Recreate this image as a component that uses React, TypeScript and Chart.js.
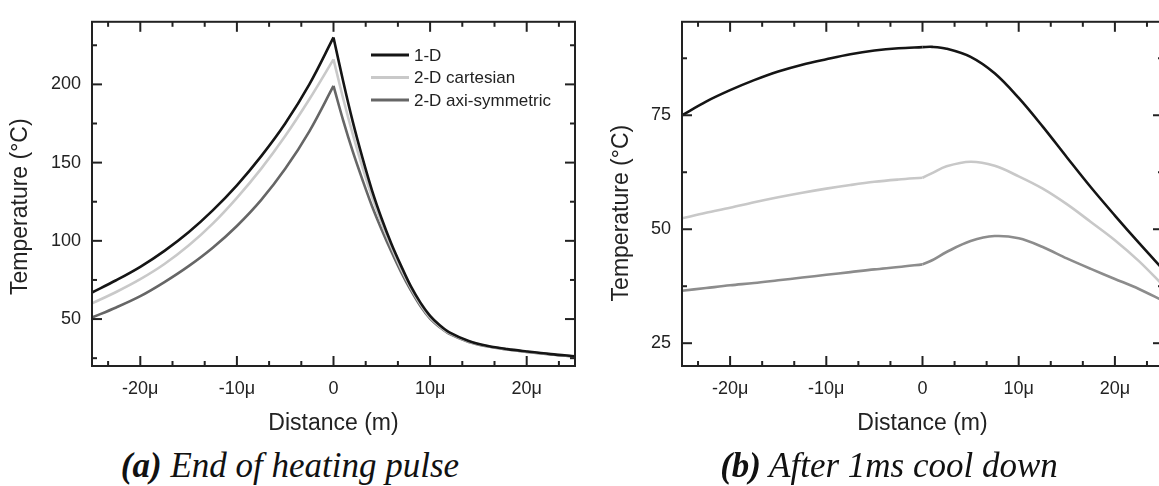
import React, { useEffect, useRef } from 'react';
import { Chart, registerables } from 'chart.js';

Chart.register(...registerables);

// ---------- data ----------
const SERIES_NAMES = ['1-D', '2-D cartesian', '2-D axi-symmetric'];
const X_TICKS = [-20, -10, 0, 10, 20];
const Y_TICKS_A = [50, 100, 150, 200];
const Y_TICKS_B = [25, 50, 75];

// (a) End of heating pulse — distance in µm
const X_A = [-25, -22.5, -20, -17.5, -15, -12.5, -10, -7.5, -5, -2.5, 0, 1, 2, 3, 4, 5, 6, 7, 8, 9, 10, 11, 12, 14, 16, 18, 20, 22.5, 25];
const ONE_D_A = [67, 74.8, 83.4, 93.6, 105.5, 119.5, 135.5, 154, 175, 200, 230, 202, 176, 153, 132, 114, 98, 84, 71, 60.5, 52, 46, 41.5, 36, 32.8, 30.8, 29.3, 27.6, 26.2];
const CART_A = [60, 67.3, 75.5, 85.2, 97, 111, 127.5, 146, 167, 190.5, 216, 191, 168, 147, 128, 111, 96, 82, 70, 59.5, 51, 45.3, 41, 35.7, 32.6, 30.6, 29.1, 27.5, 26.1];
const AXI_A = [51, 57.4, 64.6, 73.6, 83.8, 95.6, 109.5, 126, 146, 170, 199, 177, 157, 139, 122, 107, 93, 80, 68.5, 58.3, 50.3, 44.8, 40.5, 35.4, 32.4, 30.5, 29, 27.4, 26];

// (b) After 1ms cool down
const X_B = [-25, -22.5, -20, -17.5, -15, -12.5, -10, -7.5, -5, -2.5, 0, 1, 2.5, 5, 7.5, 10, 12.5, 15, 17.5, 20, 22.5, 25];
const ONE_D_B = [75, 78, 80.5, 82.7, 84.6, 86.1, 87.3, 88.4, 89.2, 89.7, 89.95, 90, 89.6, 87.8, 84.2, 78.8, 72.5, 65.8, 59.2, 53, 47, 41.2];
const CART_B = [52.4, 53.6, 54.7, 55.9, 57, 58, 58.9, 59.7, 60.4, 60.9, 61.3, 62.3, 63.8, 64.8, 63.9, 61.6, 58.9, 55.5, 51.6, 47.6, 43, 37.7];
const AXI_B = [36.5, 37.1, 37.7, 38.2, 38.8, 39.4, 40, 40.6, 41.2, 41.7, 42.3, 43.2, 45, 47.4, 48.5, 48, 46.1, 43.6, 41.3, 39.1, 36.9, 34.3];

// ---------- styling ----------
const SANS = '"Liberation Sans", Arial, sans-serif';
const INK = '#222222';
const COLORS_A = ['#151515', '#c9c9c9', '#666666'];
const COLORS_B = ['#151515', '#c8c8c8', '#8c8c8c'];

function halves(xs: number[], ys: number[], label: string, color: string) {
  const left: { x: number; y: number }[] = [];
  const right: { x: number; y: number }[] = [];
  xs.forEach((x, i) => {
    if (x <= 0) left.push({ x, y: ys[i] });
    if (x >= 0) right.push({ x, y: ys[i] });
  });
  const common = {
    borderColor: color,
    backgroundColor: color,
    borderWidth: 2.6,
    pointRadius: 0,
    fill: false,
    tension: 0.35,
  };
  return [
    { ...common, label, data: left },
    { ...common, label: label + ' ', data: right },
  ];
}

const framePlugin = {
  id: 'frameTicks',
  afterDraw(chart: any, _args: any, opts: any) {
    const { ctx, chartArea, scales } = chart;
    const { left, right, top, bottom } = chartArea;
    const xs = scales.x;
    const ys = scales.y;
    ctx.save();
    ctx.strokeStyle = INK;
    ctx.lineWidth = 2;
    ctx.lineCap = 'butt';
    const line = (x1: number, y1: number, x2: number, y2: number) => {
      ctx.beginPath();
      ctx.moveTo(x1, y1);
      ctx.lineTo(x2, y2);
      ctx.stroke();
    };
    const major = 10;
    const minor = 5;
    const xMaj: number[] = opts.xMajor;
    const xStep = xMaj[1] - xMaj[0];
    const xMin: number[] = [];
    for (let m = xMaj[0] - xStep; m <= xMaj[xMaj.length - 1] + 1e-9; m += xStep) {
      for (const k of [1, 2]) {
        const v = m + (k * xStep) / 3;
        if (v > xs.min && v < xs.max) xMin.push(v);
      }
    }
    xMaj.forEach((v) => {
      const p = xs.getPixelForValue(v);
      line(p, bottom, p, bottom - major);
      line(p, top, p, top + major);
    });
    xMin.forEach((v) => {
      const p = xs.getPixelForValue(v);
      line(p, bottom, p, bottom - minor);
      line(p, top, p, top + minor);
    });
    const yMaj: number[] = opts.yMajor;
    const yStep = yMaj[1] - yMaj[0];
    const yMin: number[] = [];
    for (let m = yMaj[0] - yStep; m <= yMaj[yMaj.length - 1] + 1e-9; m += yStep) {
      const v = m + yStep / 2;
      if (v > ys.min && v < ys.max) yMin.push(v);
    }
    yMaj.forEach((v) => {
      const p = ys.getPixelForValue(v);
      line(left, p, left + major, p);
      line(right, p, right - major, p);
    });
    yMin.forEach((v) => {
      const p = ys.getPixelForValue(v);
      line(left, p, left + minor, p);
      line(right, p, right - minor, p);
    });
    ctx.strokeRect(left, top, right - left, bottom - top);
    ctx.restore();
  },
};

const seriesLegendPlugin = {
  id: 'seriesLegend',
  afterDraw(chart: any, _args: any, opts: any) {
    if (!opts || !opts.show) return;
    const { ctx } = chart;
    ctx.save();
    ctx.font = `17px ${SANS}`;
    ctx.textBaseline = 'middle';
    ctx.textAlign = 'left';
    SERIES_NAMES.forEach((name, i) => {
      const ds = chart.data.datasets[i * 2];
      const y = opts.y0 + i * opts.dy;
      ctx.strokeStyle = ds.borderColor;
      ctx.lineWidth = 3;
      ctx.beginPath();
      ctx.moveTo(opts.x0, y);
      ctx.lineTo(opts.x1, y);
      ctx.stroke();
      ctx.fillStyle = INK;
      ctx.fillText(name, opts.tx, y + 1);
    });
    ctx.restore();
  },
};

function makeConfig(p: {
  xs: number[];
  series: number[][];
  colors: string[];
  yMin: number;
  yMax: number;
  yTicks: number[];
  padTop: number;
  padRight: number;
  yTitlePad: number;
  yTitleText: string;
  legend: boolean;
}) {
  const datasets: any[] = [];
  p.series.forEach((ys, i) => datasets.push(...halves(p.xs, ys, SERIES_NAMES[i], p.colors[i])));
  return {
    type: 'line' as const,
    data: { datasets },
    options: {
      responsive: false,
      animation: false as const,
      devicePixelRatio: 1,
      layout: { padding: { left: 0, top: p.padTop, right: p.padRight, bottom: 0 } },
      plugins: {
        legend: { display: false },
        tooltip: { enabled: false },
        frameTicks: { xMajor: X_TICKS, yMajor: p.yTicks },
        seriesLegend: { show: p.legend, x0: 371, x1: 409, tx: 414, y0: 55, dy: 22.5 },
      },
      scales: {
        x: {
          type: 'linear' as const,
          min: -25,
          max: 25,
          grid: { display: false, drawTicks: false },
          border: { display: false },
          afterBuildTicks: (s: any) => {
            s.ticks = X_TICKS.map((v) => ({ value: v }));
          },
          afterFit: (s: any) => {
            s.height = 74;
          },
          ticks: {
            padding: 12,
            autoSkip: false,
            maxRotation: 0,
            color: INK,
            font: { family: SANS, size: 18 },
            callback: (v: any) => (Number(v) === 0 ? '0' : `${v}μ`),
          },
          title: {
            display: true,
            text: 'Distance (m)',
            color: INK,
            font: { family: SANS, size: 23 },
            padding: { top: 0, bottom: 3 },
          },
        },
        y: {
          type: 'linear' as const,
          min: p.yMin,
          max: p.yMax,
          grid: { display: false, drawTicks: false },
          border: { display: false },
          afterBuildTicks: (s: any) => {
            s.ticks = p.yTicks.map((v) => ({ value: v }));
          },
          afterFit: (s: any) => {
            s.width = 92;
          },
          ticks: {
            padding: 11,
            color: INK,
            font: { family: SANS, size: 18 },
          },
          title: {
            display: true,
            text: p.yTitleText,
            color: INK,
            font: { family: SANS, size: 23 },
            padding: { top: p.yTitlePad, bottom: 0 },
          },
        },
      },
    },
    plugins: [framePlugin, seriesLegendPlugin],
  };
}

function Panel({ config, left }: { config: () => any; left: number }) {
  const ref = useRef<HTMLCanvasElement>(null);
  useEffect(() => {
    const chart = new Chart(ref.current as HTMLCanvasElement, config());
    return () => chart.destroy();
  }, []);
  return (
    <canvas
      ref={ref}
      width={600}
      height={440}
      style={{ position: 'absolute', left, top: 0, width: 600, height: 440, display: 'block' }}
    />
  );
}

const captionStyle: React.CSSProperties = {
  position: 'absolute',
  top: 448,
  width: 580,
  textAlign: 'center',
  fontFamily: '"Liberation Serif", "Times New Roman", serif',
  fontStyle: 'italic',
  fontSize: 35,
  lineHeight: '35px',
  color: '#111',
  whiteSpace: 'nowrap',
};

export default function App() {
  const cfgA = () =>
    makeConfig({
      xs: X_A,
      series: [ONE_D_A, CART_A, AXI_A],
      colors: COLORS_A,
      yMin: 20,
      yMax: 240,
      yTicks: Y_TICKS_A,
      padTop: 13,
      padRight: 25,
      yTitlePad: 7,
      yTitleText: 'Temperature (°C)    ',
      legend: true,
    });
  const cfgB = () =>
    makeConfig({
      xs: X_B,
      series: [ONE_D_B, CART_B, AXI_B],
      colors: COLORS_B,
      yMin: 20,
      yMax: 95.5,
      yTicks: Y_TICKS_B,
      padTop: 11,
      padRight: 27,
      yTitlePad: 18,
      yTitleText: 'Temperature (°C)      ',
      legend: false,
    });
  return (
    <div
      style={{
        position: 'fixed',
        left: 0,
        top: 0,
        width: 1159,
        height: 486,
        overflow: 'hidden',
        background: '#ffffff',
      }}
    >
      <Panel config={cfgA} left={0} />
      <Panel config={cfgB} left={590} />
      <div style={{ ...captionStyle, left: 0 }}>
        <b>(a)</b> End of heating pulse
      </div>
      <div style={{ ...captionStyle, left: 599 }}>
        <b>(b)</b> After 1ms cool down
      </div>
    </div>
  );
}
